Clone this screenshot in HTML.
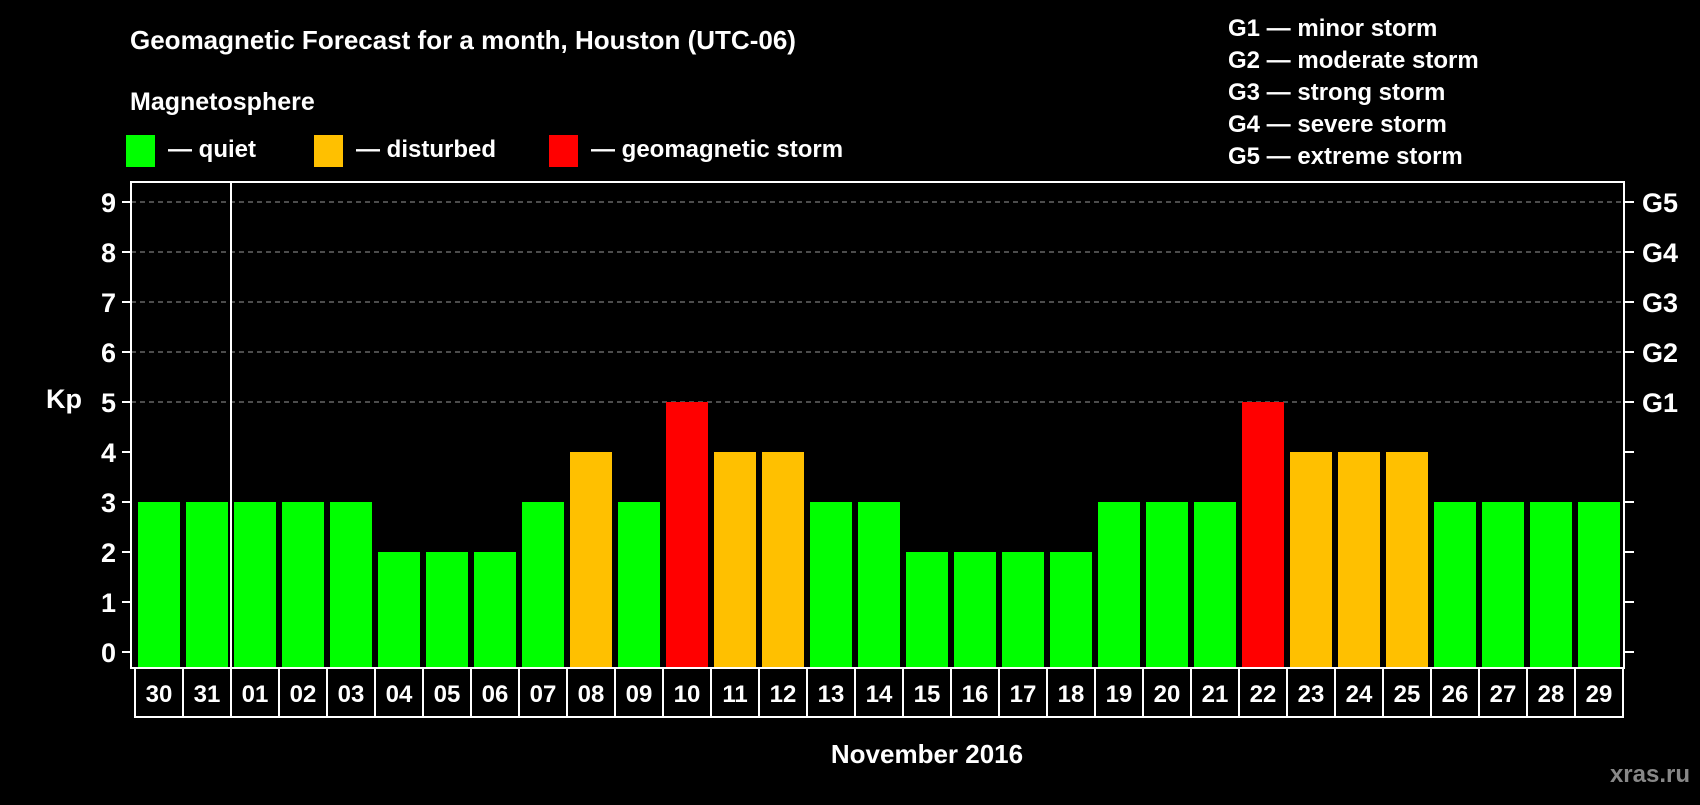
<!DOCTYPE html>
<html><head><meta charset="utf-8"><style>
body{margin:0;background:#000;width:1700px;height:800px;overflow:hidden}
svg text{font-family:"Liberation Sans",sans-serif;font-weight:bold;fill:#fff}
</style></head><body>
<svg id="chart" width="1700" height="800" xmlns="http://www.w3.org/2000/svg">
<rect width="1700" height="800" fill="#000"/>
<text x="130" y="49" font-size="26">Geomagnetic Forecast for a month, Houston (UTC-06)</text>
<text x="130" y="110" font-size="25">Magnetosphere</text>
<g><rect x="126" y="135" width="29" height="32" fill="#00ff00"/><text x="168" y="157" font-size="24">— quiet</text></g>
<g><rect x="314" y="135" width="29" height="32" fill="#ffc000"/><text x="356" y="157" font-size="24">— disturbed</text></g>
<g><rect x="549" y="135" width="29" height="32" fill="#ff0000"/><text x="591" y="157" font-size="24">— geomagnetic storm</text></g>
<g font-size="24">
<text x="1228" y="36">G1 — minor storm</text>
<text x="1228" y="68">G2 — moderate storm</text>
<text x="1228" y="100">G3 — strong storm</text>
<text x="1228" y="132">G4 — severe storm</text>
<text x="1228" y="164">G5 — extreme storm</text>
</g>
<g id="plot"></g>
<text x="64" y="408" font-size="27" text-anchor="middle">Kp</text>
<text x="927" y="763" font-size="26" text-anchor="middle">November 2016</text>
<text x="1690" y="782" font-size="24" text-anchor="end" style="fill:#888">xras.ru</text>
</svg>
<script>
const days=["30","31","01","02","03","04","05","06","07","08","09","10","11","12","13","14","15","16","17","18","19","20","21","22","23","24","25","26","27","28","29"];
const kp=[3,3,3,3,3,2,2,2,3,4,3,5,4,4,3,3,2,2,2,2,3,3,3,5,4,4,4,3,3,3,3];
const yTicks=[0,1,2,3,4,5,6,7,8,9];
const gLabels=["G1","G2","G3","G4","G5"];
const gLevels=[5,6,7,8,9];
const NS="http://www.w3.org/2000/svg";
const g=document.getElementById('plot');
const L=131,R=1624,T=182,B=668;
const y=v=>652-v*50;
const x=i=>138+i*48;
function mk(tag,attrs,parent){const e=document.createElementNS(NS,tag);for(const k in attrs)e.setAttribute(k,attrs[k]);(parent||g).appendChild(e);return e;}
function col(v){return v>=5?"#ff0000":(v>=4?"#ffc000":"#00ff00");}
// grid
gLevels.forEach(v=>{const l=mk('line',{x1:L,x2:R,y1:y(v),y2:y(v),stroke:"#999","stroke-width":1,"stroke-dasharray":"5,4"});

});
// bars
kp.forEach((v,i)=>{const r=mk('rect',{x:x(i),y:y(v),width:42,height:B-y(v),fill:col(v)});

});
// frame
const f=mk('rect',{x:L,y:T,width:R-L,height:B-T,fill:"none",stroke:"#fff","stroke-width":2});


const ml=mk('line',{x1:231,x2:231,y1:T,y2:B,stroke:"#fff","stroke-width":2});


// y ticks
yTicks.forEach(v=>{mk('line',{x1:122,x2:L,y1:y(v),y2:y(v),stroke:"#fff","stroke-width":2});
mk('line',{x1:R,x2:1634,y1:y(v),y2:y(v),stroke:"#fff","stroke-width":2});
const t=mk('text',{x:116,y:y(v)+10,"font-size":27,"text-anchor":"end"});t.textContent=v;

});
gLabels.forEach((s,i)=>{const t=mk('text',{x:1642,y:y(gLevels[i])+10,"font-size":27});t.textContent=s;

});
// date boxes
days.forEach((d,i)=>{const bx=135+i*48;
const r=mk('rect',{x:bx,y:B,width:48,height:49,fill:"none",stroke:"#fff","stroke-width":2});


const t=mk('text',{x:bx+24,y:B+34,"font-size":24,"text-anchor":"middle"});t.textContent=d;

});
</script>
</body></html>
